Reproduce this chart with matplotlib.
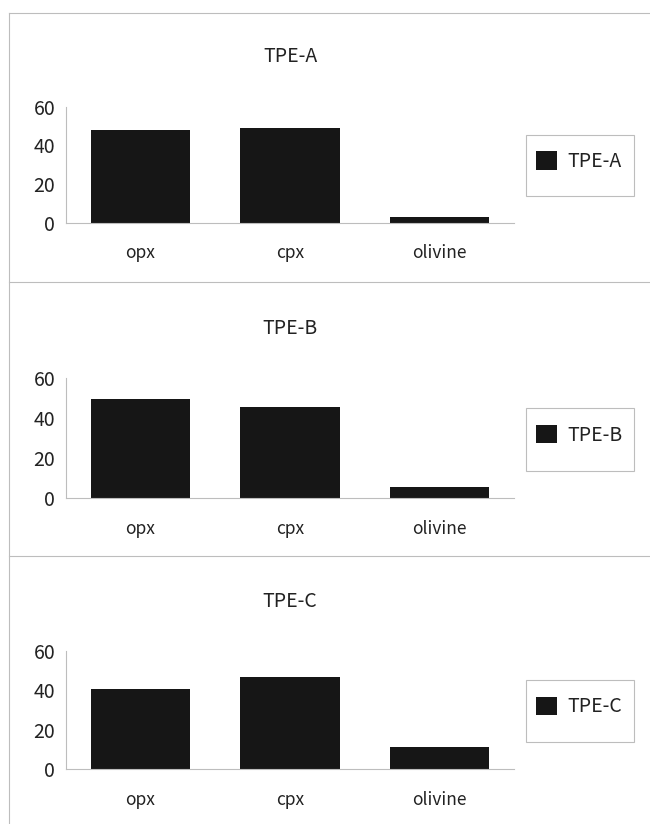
"""Modal composition of the three TPE samples as stacked bar panels."""

import matplotlib.pyplot as plt
from matplotlib.lines import Line2D
from matplotlib.patches import Rectangle

plt.rcParams["font.family"] = ["Noto Sans CJK JP", "DejaVu Sans"]

minerals = ["opx", "cpx", "olivine"]
samples = ["TPE-A", "TPE-B", "TPE-C"]
tpe_a = [48.0, 48.8, 3.1]
tpe_b = [49.5, 45.6, 5.5]
tpe_c = [40.8, 46.9, 11.3]
y_ticks = [0, 20, 40, 60]

W, H = 650, 824
BAR_COLOR = "#161616"
TEXT_COLOR = "#222222"
LINE_COLOR = "#bdbdbd"

fig = plt.figure(figsize=(W / 100, H / 100), dpi=100)

# axes boxes in pixels: (left, top, right, bottom)
boxes = [
    (65.7, 106.7, 514.3, 222.7),
    (65.7, 378.3, 514.3, 498.3),
    (65.7, 651.0, 514.3, 769.0),
]

for name, values, (x0, y0, x1, y1) in zip(samples, [tpe_a, tpe_b, tpe_c], boxes):
    ax = fig.add_axes([x0 / W, 1 - y1 / H, (x1 - x0) / W, (y1 - y0) / H])
    ax.bar(range(len(minerals)), values, width=0.665, color=BAR_COLOR, label=name)
    ax.set_xlim(-0.5, len(minerals) - 0.5)
    ax.set_ylim(0, 60)
    ax.set_yticks(y_ticks)
    ax.set_xticks(range(len(minerals)))
    ax.set_xticklabels(minerals)

    for side in ("top", "right"):
        ax.spines[side].set_visible(False)
    for side in ("left", "bottom"):
        ax.spines[side].set_color(LINE_COLOR)
        ax.spines[side].set_linewidth(0.8)

    ax.tick_params(axis="y", length=0, pad=7.5, labelsize=14, labelcolor=TEXT_COLOR)
    ax.tick_params(axis="x", length=0, pad=15.5, labelsize=12.5, labelcolor=TEXT_COLOR)

    # title above the plot area
    ax.annotate(name, xy=(0.5, 1), xycoords="axes fraction", xytext=(0, 35.8),
                textcoords="offset points", ha="center", va="center",
                fontsize=14, color=TEXT_COLOR)

    # legend box with a hand-drawn frame (uneven padding)
    ax.add_patch(Rectangle((1.0254, 0.23), 0.2421, 0.526, transform=ax.transAxes,
                           fill=False, edgecolor=LINE_COLOR, linewidth=0.8,
                           clip_on=False))
    ax.legend(loc="center left", bbox_to_anchor=(1.0268, 0.527), frameon=False,
              borderpad=0, handlelength=1.07, handleheight=1.07, handletextpad=0.55,
              fontsize=14, labelcolor=TEXT_COLOR)

# page borders and separators
for y in (12.5, 281.7, 556.0):
    fig.add_artist(Line2D([9 / W, 1], [1 - y / H, 1 - y / H], color=LINE_COLOR,
                          linewidth=0.8, transform=fig.transFigure))
fig.add_artist(Line2D([9 / W, 9 / W], [1 - 12.5 / H, 0], color=LINE_COLOR,
                      linewidth=0.8, transform=fig.transFigure))

fig.savefig("out.png", dpi=100)
